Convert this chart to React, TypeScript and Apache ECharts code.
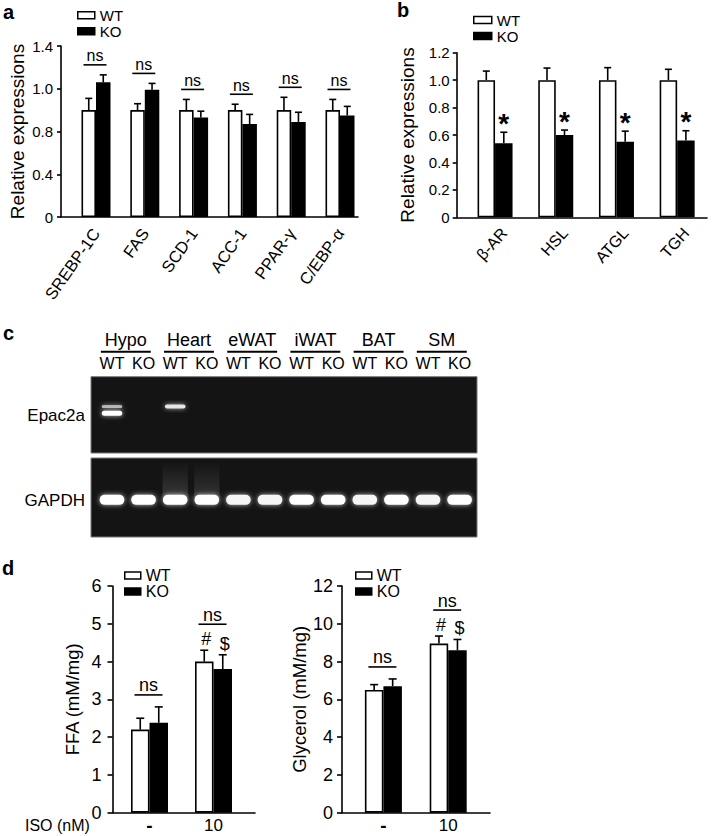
import React, { useEffect, useRef } from 'react';
import * as echarts from 'echarts';

const FONT = '"Liberation Sans", Arial, Helvetica, sans-serif';

// ---------- Panel a ----------
const aCategories = ['SREBP-1C', 'FAS', 'SCD-1', 'ACC-1', 'PPAR-γ', 'C/EBP-α'];
const aWT = [1.0, 1.0, 1.0, 1.0, 1.0, 1.0];
const aWTErr = [0.11, 0.06, 0.1, 0.055, 0.12, 0.1];
const aKO = [1.26, 1.19, 0.93, 0.87, 0.89, 0.95];
const aKOErr = [0.07, 0.06, 0.06, 0.09, 0.09, 0.085];
const aTickLabels = ['0', '0.4', '0.8', '1.0', '1.4'];
const aGroupMarks = ['ns', 'ns', 'ns', 'ns', 'ns', 'ns'];

// ---------- Panel b ----------
const bCategories = ['β-AR', 'HSL', 'ATGL', 'TGH'];
const bWT = [1.0, 1.0, 1.0, 1.0];
const bWTErr = [0.066, 0.088, 0.091, 0.079];
const bKO = [0.54, 0.6, 0.55, 0.56];
const bKOErr = [0.08, 0.036, 0.078, 0.071];
const bKOMarks = ['*', '*', '*', '*'];

// ---------- Panel c (gel) ----------
const tissues = ['Hypo', 'Heart', 'eWAT', 'iWAT', 'BAT', 'SM'];
const laneTissue = ['Hypo', 'Hypo', 'Heart', 'Heart', 'eWAT', 'eWAT', 'iWAT', 'iWAT', 'BAT', 'BAT', 'SM', 'SM'];
const laneGenotype = ['WT', 'KO', 'WT', 'KO', 'WT', 'KO', 'WT', 'KO', 'WT', 'KO', 'WT', 'KO'];
const epacBandLane = [0, 0, 2];
const epacBandPos = [0.39, 0.48, 0.39];
const epacBandLevel = [0.7, 1.0, 0.9];
const epacBandThick = [3, 5, 4];
const gapdhBandPos = [0.53, 0.53, 0.53, 0.53, 0.53, 0.53, 0.53, 0.53, 0.53, 0.53, 0.53, 0.53];
const gapdhBandLevel = [1, 1, 1, 1, 0.96, 0.96, 1, 1, 0.96, 1, 0.96, 1];
const gapdhSmearLane = [2, 3];
const gapdhSmearLevel = [0.22, 0.2];

// ---------- Panel d ----------
const isoLevels = ['-', '10'];
const ffaWT = [2.2, 4.0];
const ffaWTErr = [0.3, 0.3];
const ffaKO = [2.38, 3.8];
const ffaKOErr = [0.42, 0.38];
const glyWT = [6.5, 8.95];
const glyWTErr = [0.28, 0.4];
const glyKO = [6.7, 8.6];
const glyKOErr = [0.38, 0.57];
const dWTMarks = ['', '#'];
const dKOMarks = ['', '$'];
const dGroupMarks = ['ns', 'ns'];

const W = 715;
const H = 836;

function txt(text: string, x: number, y: number, fs: number, align: string, vAlign: string, weight = 'normal') {
  return {
    type: 'text',
    x,
    y,
    style: {
      text,
      fill: '#000',
      fontSize: fs,
      fontFamily: FONT,
      fontWeight: weight,
      align,
      textAlign: align,
      verticalAlign: vAlign,
      textVerticalAlign: vAlign,
    },
  };
}

function errRender(sign: number, barW: number, cap: number) {
  return (params: any, api: any) => {
    const i = api.value(0);
    const v = api.value(1);
    const e = api.value(2);
    const b = api.coord([i, v]);
    const t = api.coord([i, v + e]);
    const x = b[0] + (sign * barW) / 2;
    return {
      type: 'group',
      children: [
        { type: 'line', shape: { x1: x, y1: b[1], x2: x, y2: t[1] }, style: { stroke: '#000', lineWidth: 1.6 } },
        { type: 'line', shape: { x1: x - cap / 2, y1: t[1], x2: x + cap / 2, y2: t[1] }, style: { stroke: '#000', lineWidth: 1.6 } },
      ],
    };
  };
}

function nsLine(x: number, y: number, w: number, label: string, fs: number, txtGap: number) {
  return [
    { type: 'line', shape: { x1: x - w / 2, y1: y, x2: x + w / 2, y2: y }, style: { stroke: '#000', lineWidth: 1.6 } },
    txt(label, x, y - txtGap, fs, 'center', 'middle'),
  ];
}

const renderA = (params: any, api: any) => {
  const i = api.value(0);
  const top = Math.max(api.value(1) + api.value(2), api.value(3) + api.value(4));
  const p = api.coord([i, top]);
  return { type: 'group', children: nsLine(p[0] - 1, p[1] - 10, 23, aGroupMarks[i], 16, 9) };
};

const renderB = (barW: number) => (params: any, api: any) => {
  const i = api.value(0);
  const p = api.coord([i, api.value(3) + api.value(4)]);
  return txt(bKOMarks[i], p[0] + barW / 2, p[1] - 9, 28, 'center', 'middle', 'bold');
};

const renderD = (barW: number) => (params: any, api: any) => {
  const i = api.value(0);
  const pw = api.coord([i, api.value(1) + api.value(2)]);
  const pk = api.coord([i, api.value(3) + api.value(4)]);
  const children: any[] = [];
  let lineY;
  if (dWTMarks[i] || dKOMarks[i]) {
    children.push(txt(dWTMarks[i], pw[0] - barW / 2 + 2, pw[1] - 11, 18, 'center', 'middle'));
    children.push(txt(dKOMarks[i], pk[0] + barW / 2 + 2, pk[1] - 11, 18, 'center', 'middle'));
    lineY = Math.min(pw[1], pk[1]) - 26;
  } else {
    lineY = Math.min(pw[1], pk[1]) - 12;
  }
  children.push(...nsLine(pw[0] - 1, lineY, 28, dGroupMarks[i], 18, 9.5));
  return { type: 'group', children };
};

function addBarPanel(out: any, cfg: any) {
  const gA = out.grid.length;
  out.grid.push({ left: cfg.axLeft, top: cfg.top, width: cfg.axWidth, height: cfg.height, outerBoundsMode: 'none', containLabel: false });
  const gB = out.grid.length;
  out.grid.push({ left: cfg.barLeft, top: cfg.top, width: cfg.barSpan, height: cfg.height, outerBoundsMode: 'none', containLabel: false });
  const gL = out.grid.length;
  out.grid.push({ left: cfg.barLeft + cfg.labelShift, top: cfg.top, width: cfg.barSpan, height: cfg.height, outerBoundsMode: 'none', containLabel: false });

  out.xAxis.push({
    gridIndex: gA, type: 'value', min: 0, max: 1,
    axisLine: { show: true, onZero: false, lineStyle: { color: '#000', width: 1.6 } },
    axisTick: { show: false }, axisLabel: { show: false }, splitLine: { show: false },
  });
  out.yAxis.push({
    gridIndex: gA, type: 'value', min: 0, max: cfg.yMax, interval: cfg.yInterval,
    axisLine: { show: true, lineStyle: { color: '#000', width: 1.6 } },
    axisTick: { show: true, length: cfg.tickLen, lineStyle: { color: '#000', width: 1.6 } },
    axisLabel: { formatter: cfg.yLabel, fontSize: cfg.tickSize, color: '#000', fontFamily: FONT, margin: cfg.tickMargin },
    splitLine: { show: false },
    name: cfg.yName, nameLocation: 'middle', nameGap: cfg.nameGap,
    nameTextStyle: { fontSize: cfg.nameSize, color: '#000', fontFamily: FONT },
  });
  const xB = out.xAxis.length;
  out.xAxis.push({
    gridIndex: gB, type: 'category', data: cfg.cats,
    axisLine: { show: false }, axisTick: { show: false }, axisLabel: { show: false }, splitLine: { show: false },
  });
  const yB = out.yAxis.length;
  out.yAxis.push({ gridIndex: gB, type: 'value', min: 0, max: cfg.yMax, show: false });
  out.xAxis.push({
    gridIndex: gL, type: 'category', data: cfg.cats,
    axisLine: { show: false }, axisTick: { show: false }, splitLine: { show: false },
    axisLabel: {
      interval: 0, rotate: cfg.catRotate, fontSize: cfg.catSize, color: '#000', fontFamily: FONT,
      margin: cfg.catMargin, formatter: cfg.catFormatter, rich: cfg.catRich, lineHeight: cfg.catLineHeight,
    },
  });
  out.yAxis.push({ gridIndex: gL, type: 'value', min: 0, max: cfg.yMax, show: false });

  out.series.push({
    type: 'bar', name: 'WT', xAxisIndex: xB, yAxisIndex: yB, data: cfg.wt, barWidth: cfg.barW, barGap: '0%',
    itemStyle: { color: '#fff', borderColor: '#000', borderWidth: 1.6 }, z: 2,
  });
  out.series.push({
    type: 'bar', name: 'KO', xAxisIndex: xB, yAxisIndex: yB, data: cfg.ko, barWidth: cfg.barW, barGap: '0%',
    itemStyle: { color: '#000', borderColor: '#000', borderWidth: 1.6 }, z: 2,
  });
  out.series.push({
    type: 'custom', name: cfg.id + '-errWT', xAxisIndex: xB, yAxisIndex: yB, z: 3, silent: true,
    renderItem: errRender(-1, cfg.barW, cfg.cap), data: cfg.wt.map((v: number, i: number) => [i, v, cfg.wtErr[i]]),
  });
  out.series.push({
    type: 'custom', name: cfg.id + '-errKO', xAxisIndex: xB, yAxisIndex: yB, z: 3, silent: true,
    renderItem: errRender(1, cfg.barW, cfg.cap), data: cfg.ko.map((v: number, i: number) => [i, v, cfg.koErr[i]]),
  });
  out.series.push({
    type: 'custom', name: cfg.id + '-annot', xAxisIndex: xB, yAxisIndex: yB, z: 4, silent: true,
    renderItem: cfg.annot,
    data: cfg.cats.map((c: string, i: number) => [i, cfg.wt[i], cfg.wtErr[i], cfg.ko[i], cfg.koErr[i]]),
  });
  out.legend.push({
    orient: 'vertical', left: cfg.legLeft, top: cfg.legTop, padding: 0, itemWidth: cfg.legW, itemHeight: cfg.legH,
    itemGap: 0, selectedMode: false, icon: 'rect',
    textStyle: { fontSize: cfg.legFont, lineHeight: 16, color: '#000', fontFamily: FONT },
    data: [
      { name: 'WT', itemStyle: { color: '#fff', borderColor: '#000', borderWidth: 1.5 } },
      { name: 'KO', itemStyle: { color: '#000', borderColor: '#000', borderWidth: 1.5 } },
    ],
  });
}

function addGel(out: any) {
  const laneIds = laneTissue.map((t, i) => t + ' ' + laneGenotype[i]);
  const g1 = out.grid.length;
  out.grid.push({ left: 96.2, top: 376.7, width: 379.2, height: 76.3, outerBoundsMode: 'none' });
  const g2 = out.grid.length;
  out.grid.push({ left: 96.2, top: 458, width: 379.2, height: 79, outerBoundsMode: 'none' });

  const xLane1 = out.xAxis.length;
  out.xAxis.push({
    gridIndex: g1, type: 'category', data: laneIds, position: 'top',
    axisLine: { show: false }, axisTick: { show: false }, splitLine: { show: false },
    axisLabel: { interval: 0, formatter: (v: string, i: number) => laneGenotype[i], fontSize: 16, color: '#000', fontFamily: FONT, margin: 5 },
  });
  const xTissue = out.xAxis.length;
  out.xAxis.push({ gridIndex: g1, type: 'category', data: tissues, show: false });
  const y1 = out.yAxis.length;
  out.yAxis.push({ gridIndex: g1, type: 'value', min: 0, max: 1, inverse: true, show: false });
  const xLane2 = out.xAxis.length;
  out.xAxis.push({ gridIndex: g2, type: 'category', data: laneIds, show: false });
  const y2 = out.yAxis.length;
  out.yAxis.push({ gridIndex: g2, type: 'value', min: 0, max: 1, inverse: true, show: false });

  // tissue headers with underline
  out.series.push({
    type: 'custom', name: 'tissueHeader', xAxisIndex: xTissue, yAxisIndex: y1, silent: true, z: 5,
    data: tissues.map((t, i) => [i, 0]),
    renderItem: (params: any, api: any) => {
      const i = api.value(0);
      const c = api.coord([i, 0]);
      const top = params.coordSys.y;
      const w = api.size([1, 0])[0] * 0.79;
      return {
        type: 'group',
        children: [
          { type: 'line', shape: { x1: c[0] - w / 2 - 2, y1: top - 25, x2: c[0] + w / 2 - 2, y2: top - 25 }, style: { stroke: '#000', lineWidth: 2 } },
          txt(tissues[i], c[0] - 2, top - 37, 18, 'center', 'middle'),
        ],
      };
    },
  });

  const bandRender = (params: any, api: any) => {
    const lane = api.value(0);
    const pos = api.value(1);
    const lvl = api.value(2);
    const thick = api.value(3);
    const wf = api.value(4);
    const p = api.coord([lane, pos]);
    const w = api.size([1, 0])[0] * wf;
    const g = Math.round(255 * lvl);
    return {
      type: 'rect',
      shape: { x: p[0] - w / 2, y: p[1] - thick / 2, width: w, height: thick, r: thick / 2 },
      style: { fill: `rgb(${g},${g},${g})`, shadowBlur: 5, shadowColor: `rgba(255,255,255,${0.75 * lvl})` },
    };
  };

  out.series.push({
    type: 'custom', name: 'epacBands', xAxisIndex: xLane1, yAxisIndex: y1, silent: true, z: 5,
    data: epacBandLane.map((l, i) => [l, epacBandPos[i], epacBandLevel[i], epacBandThick[i], 0.65]),
    renderItem: bandRender,
  });
  out.series.push({
    type: 'custom', name: 'gapdhSmear', xAxisIndex: xLane2, yAxisIndex: y2, silent: true, z: 4,
    data: gapdhSmearLane.map((l, i) => [l, gapdhSmearLevel[i]]),
    renderItem: (params: any, api: any) => {
      const lane = api.value(0);
      const lvl = api.value(1);
      const a = api.coord([lane, 0.05]);
      const b = api.coord([lane, 0.5]);
      const w = api.size([1, 0])[0] * 0.8;
      const g = Math.round(255 * lvl);
      return {
        type: 'rect',
        shape: { x: a[0] - w / 2, y: a[1], width: w, height: b[1] - a[1] },
        style: {
          fill: new echarts.graphic.LinearGradient(0, 0, 0, 1, [
            { offset: 0, color: `rgba(${g},${g},${g},0)` },
            { offset: 1, color: `rgba(${g},${g},${g},1)` },
          ]),
        },
      };
    },
  });
  out.series.push({
    type: 'custom', name: 'gapdhBands', xAxisIndex: xLane2, yAxisIndex: y2, silent: true, z: 5,
    data: gapdhBandPos.map((p, i) => [i, p, gapdhBandLevel[i], 10, 0.78]),
    renderItem: bandRender,
  });
}

function buildOption() {
  const out: any = { grid: [], xAxis: [], yAxis: [], series: [], legend: [] };

  addBarPanel(out, {
    id: 'a', axLeft: 61, axWidth: 297, top: 46, height: 171, barLeft: 71.6, barSpan: 292.8, barW: 14.5, cap: 7,
    labelShift: 0, yMax: 1.6, yInterval: 0.4, yLabel: (v: number) => aTickLabels[Math.round(v / 0.4)],
    yName: 'Relative expressions', nameGap: 34, nameSize: 19, tickSize: 15, tickLen: 4, tickMargin: 8,
    cats: aCategories, catRotate: 55, catSize: 16.5, catMargin: 13,
    wt: aWT, wtErr: aWTErr, ko: aKO, koErr: aKOErr, annot: renderA,
    legLeft: 77, legTop: 7.3, legW: 17, legH: 7, legFont: 15,
  });
  addBarPanel(out, {
    id: 'b', axLeft: 456.7, axWidth: 250.3, top: 52.7, height: 164.6, barLeft: 464.7, barSpan: 242.8, barW: 17.5, cap: 7,
    labelShift: 9, yMax: 1.2, yInterval: 0.2, yLabel: (v: number) => (v === 0 ? '0' : v.toFixed(1)),
    yName: 'Relative expressions', nameGap: 40, nameSize: 19, tickSize: 15, tickLen: 4, tickMargin: 7,
    cats: bCategories, catRotate: 48, catSize: 16, catMargin: 13,
    wt: bWT, wtErr: bWTErr, ko: bKO, koErr: bKOErr, annot: renderB(17.5),
    legLeft: 473, legTop: 12, legW: 18, legH: 7, legFont: 15,
  });
  const dRich = {
    d: { fontWeight: 900, fontSize: 19, color: '#000', fontFamily: FONT, lineHeight: 16 },
    n: { fontSize: 17, color: '#000', fontFamily: FONT, lineHeight: 16 },
  };
  const dFmt = (v: string) => (v === '-' ? '{d|-}' : '{n|' + v + '}');
  addBarPanel(out, {
    id: 'ffa', axLeft: 112.5, axWidth: 142.5, top: 586, height: 226.7, barLeft: 117.5, barSpan: 128, barW: 18.5, cap: 8,
    labelShift: 0, yMax: 6, yInterval: 1, yLabel: (v: number) => String(v),
    yName: 'FFA (mM/mg)', nameGap: 31, nameSize: 18.5, tickSize: 18, tickLen: 5, tickMargin: 11,
    cats: isoLevels, catRotate: 0, catSize: 17, catMargin: 5, catLineHeight: 16, catFormatter: dFmt, catRich: dRich,
    wt: ffaWT, wtErr: ffaWTErr, ko: ffaKO, koErr: ffaKOErr, annot: renderD(18.5),
    legLeft: 124, legTop: 567.5, legW: 16, legH: 7, legFont: 16,
  });
  addBarPanel(out, {
    id: 'gly', axLeft: 342, axWidth: 148, top: 586, height: 226.7, barLeft: 351, barSpan: 129.6, barW: 18.5, cap: 8,
    labelShift: 0, yMax: 12, yInterval: 2, yLabel: (v: number) => String(v),
    yName: 'Glycerol (mM/mg)', nameGap: 33, nameSize: 18.5, tickSize: 18, tickLen: 5, tickMargin: 9,
    cats: isoLevels, catRotate: 0, catSize: 17, catMargin: 5, catLineHeight: 16, catFormatter: dFmt, catRich: dRich,
    wt: glyWT, wtErr: glyWTErr, ko: glyKO, koErr: glyKOErr, annot: renderD(18.5),
    legLeft: 355, legTop: 567.5, legW: 16, legH: 7, legFont: 16,
  });
  addGel(out);

  const graphic = [
    { type: 'rect', z: 0, shape: { x: 91, y: 376.7, width: 386, height: 76.3 }, style: { fill: '#141414', stroke: '#777', lineWidth: 1 } },
    { type: 'rect', z: 0, shape: { x: 91, y: 458, width: 386, height: 79 }, style: { fill: '#141414', stroke: '#777', lineWidth: 1 } },
    { ...txt('a', 3, 2, 20, 'left', 'top', 'bold'), z: 10 },
    { ...txt('b', 397, 0, 20, 'left', 'top', 'bold'), z: 10 },
    { ...txt('c', 3, 333, 20, 'left', 'middle', 'bold'), z: 10 },
    { ...txt('d', 2, 568, 20, 'left', 'middle', 'bold'), z: 10 },
    { ...txt('Epac2a', 85, 415, 17, 'right', 'middle'), z: 10 },
    { ...txt('GAPDH', 85, 500, 17, 'right', 'middle'), z: 10 },
    { ...txt('ISO (nM)', 25, 825, 16, 'left', 'middle'), z: 10 },
  ];

  return {
    animation: false,
    backgroundColor: '#fff',
    textStyle: { fontFamily: FONT, color: '#000' },
    grid: out.grid,
    xAxis: out.xAxis,
    yAxis: out.yAxis,
    legend: out.legend,
    series: out.series,
    graphic,
  };
}

export default function App() {
  const ref = useRef<HTMLDivElement>(null);
  useEffect(() => {
    if (!ref.current) return;
    const chart = echarts.init(ref.current, null, { renderer: 'svg' });
    chart.setOption(buildOption() as any);
    return () => chart.dispose();
  }, []);
  return <div ref={ref} style={{ position: 'absolute', left: 0, top: 0, width: W, height: H, background: '#fff' }} />;
}
